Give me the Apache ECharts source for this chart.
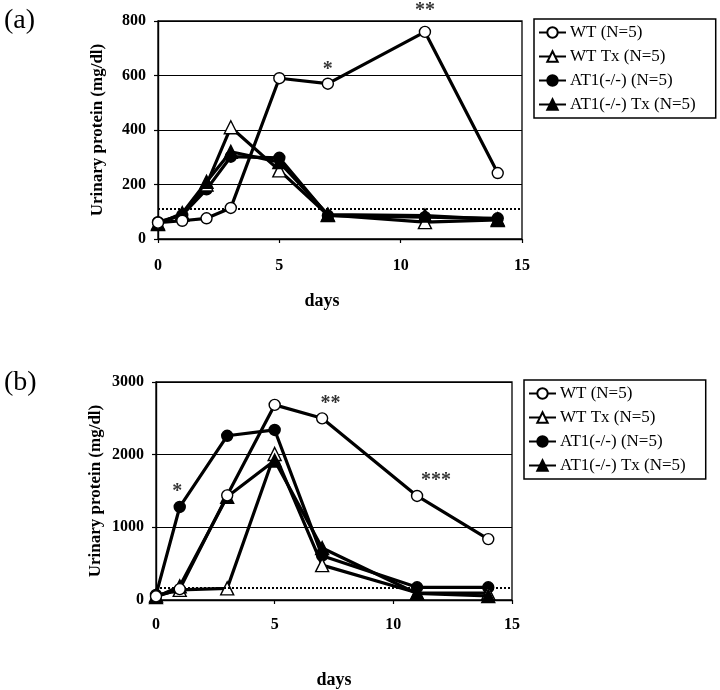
<!DOCTYPE html>
<html>
<head>
<meta charset="utf-8">
<script src="https://cdn.jsdelivr.net/npm/echarts@6/dist/echarts.min.js"></script>
<style>html,body{margin:0;padding:0;background:#fff}#c{width:720px;height:690px}</style>
</head>
<body>
<div id="c"></div>
<script>
// ---- data ----
const seriesNames = ['WT (N=5)', 'WT Tx (N=5)', 'AT1(-/-) (N=5)', 'AT1(-/-) Tx (N=5)'];
const daysA = [0, 1, 2, 3, 5, 7, 11, 14];
const wtA = [60, 67, 76, 114, 590, 570, 760, 242];
const wtTxA = [58, 90, 200, 410, 252, 88, 62, 70];
const at1A = [62, 88, 182, 302, 298, 86, 80, 76];
const at1TxA = [55, 95, 210, 320, 282, 90, 86, 72];
const thresholdA = 112;
const annotA = [[7, 622, '*'], [11, 836, '**']];

const daysB = [0, 1, 3, 5, 7, 11, 14];
const wtB = [50, 150, 1440, 2685, 2500, 1432, 838];
const wtTxB = [60, 140, 160, 2010, 480, 100, 95];
const at1B = [70, 1280, 2260, 2340, 610, 175, 175];
const at1TxB = [40, 190, 1420, 1920, 715, 90, 55];
const thresholdB = 170;
const annotB = [[0.9, 1495, '*'], [7.35, 2706, '**'], [11.8, 1645, '***']];

const yTicksA = [0, 800, 200];   // min, max, interval
const yTicksB = [0, 3000, 1000];
const xTicks = [0, 15, 5];

// ---- build ----
const serif = 'Liberation Serif';
const pair = (xs, ys) => xs.map((x, i) => [x, ys[i]]);
const symbols = [
  {symbol: 'circle', fill: '#fff', size: 11, z: 6},
  {symbol: 'triangle', fill: '#fff', size: 13, z: 4},
  {symbol: 'circle', fill: '#000', size: 11, z: 3},
  {symbol: 'triangle', fill: '#000', size: 13, z: 5}
];
function mkSeries(idx, data, gi) {
  const s = symbols[idx];
  return {
    name: seriesNames[idx], type: 'line', xAxisIndex: gi, yAxisIndex: gi,
    data: data, symbol: s.symbol, symbolSize: s.size, showSymbol: true, z: s.z,
    lineStyle: {color: '#000', width: 3.2},
    itemStyle: {color: s.fill, borderColor: '#000', borderWidth: 1.4},
    emphasis: {disabled: true}, animation: false
  };
}
function thresholdSeries(val, gi) {
  return {
    type: 'line', xAxisIndex: gi, yAxisIndex: gi, data: [], silent: true, animation: false,
    markLine: {symbol: 'none', silent: true, label: {show: false},
      lineStyle: {color: '#000', type: [2, 2], width: 2}, data: [{yAxis: val}], animation: false}
  };
}
function annotSeries(arr, gi) {
  return {
    type: 'scatter', xAxisIndex: gi, yAxisIndex: gi, clip: false, silent: true, animation: false,
    symbolSize: 0, data: arr.map(a => ({value: [a[0], a[1]], txt: a[2]})),
    label: {show: true, position: 'inside', formatter: p => p.data.txt,
      fontFamily: serif, fontSize: 20, fontWeight: 'bold', color: '#000'}
  };
}
function xAxis(gi, labelMargin, nameGap, namePad) {
  return {
    type: 'value', gridIndex: gi, min: xTicks[0], max: xTicks[1], interval: xTicks[2],
    name: 'days', nameLocation: 'middle', nameGap: nameGap,
    nameTextStyle: {fontFamily: serif, fontSize: 18, fontWeight: 'bold', color: '#000', padding: namePad},
    axisLine: {lineStyle: {color: '#000', width: 1.4}},
    axisTick: {show: true, length: 4, lineStyle: {color: '#000', width: 1.2}},
    axisLabel: {fontFamily: serif, fontSize: 16, fontWeight: 'bold', color: '#000', margin: labelMargin},
    splitLine: {show: false}
  };
}
function yAxis(gi, t) {
  return {
    type: 'value', gridIndex: gi, min: t[0], max: t[1], interval: t[2],
    name: 'Urinary protein (mg/dl)', nameLocation: 'middle', nameGap: 52, nameRotate: 90,
    nameTextStyle: {fontFamily: serif, fontSize: 17, fontWeight: 'bold', color: '#000'},
    axisLine: {show: true, lineStyle: {color: '#000', width: 1.4}},
    axisTick: {show: true, length: 4, lineStyle: {color: '#000', width: 1.2}},
    axisLabel: {fontFamily: serif, fontSize: 16, fontWeight: 'bold', color: '#000', margin: 12,
      formatter: v => String(v)},
    splitLine: {show: true, lineStyle: {color: '#000', width: 1.2}}
  };
}
function legend(left, top) {
  return {
    data: seriesNames.slice(), orient: 'vertical', left: left, top: top,
    backgroundColor: '#fff', borderColor: '#000', borderWidth: 1.5, borderRadius: 0,
    padding: [5, 20, 5, 4], itemWidth: 27, itemHeight: 13, itemGap: 7,
    selectedMode: false,
    textStyle: {fontFamily: serif, fontSize: 17, color: '#000', lineHeight: 17, padding: [0, 0, 0, -1]}
  };
}

const option = {
  backgroundColor: '#fff',
  animation: false,
  graphic: [
    {type: 'text', left: 4, top: 7, style: {text: '(a)', font: '28px "Liberation Serif"', fill: '#000'}},
    {type: 'text', left: 4, top: 369, style: {text: '(b)', font: '28px "Liberation Serif"', fill: '#000'}}
  ],
  grid: [
    {left: 158, top: 21, width: 364, height: 218, show: true, borderColor: '#000', borderWidth: 1.3, containLabel: false},
    {left: 156, top: 382, width: 356, height: 221, show: true, borderColor: '#000', borderWidth: 1.3, containLabel: false}
  ],
  xAxis: [xAxis(0, 19, 53, [0, 36, 0, 0]), xAxis(1, 17, 71, [0, 0, 0, 0])],
  yAxis: [yAxis(0, yTicksA), yAxis(1, yTicksB)],
  legend: [legend(534, 19), legend(524, 380)],
  series: [
    thresholdSeries(thresholdA, 0),
    mkSeries(0, pair(daysA, wtA), 0),
    mkSeries(1, pair(daysA, wtTxA), 0),
    mkSeries(2, pair(daysA, at1A), 0),
    mkSeries(3, pair(daysA, at1TxA), 0),
    annotSeries(annotA, 0),
    thresholdSeries(thresholdB, 1),
    mkSeries(0, pair(daysB, wtB), 1),
    mkSeries(1, pair(daysB, wtTxB), 1),
    mkSeries(2, pair(daysB, at1B), 1),
    mkSeries(3, pair(daysB, at1TxB), 1),
    annotSeries(annotB, 1)
  ]
};
const chart = echarts.init(document.getElementById('c'), null, {renderer: 'canvas'});
chart.setOption(option);
</script>
</body>
</html>
